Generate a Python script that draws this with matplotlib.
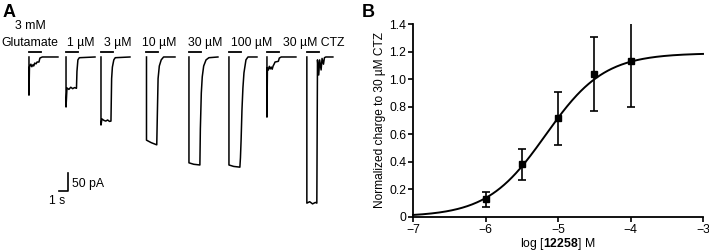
import numpy as np
import matplotlib
matplotlib.use("Agg")
import matplotlib.pyplot as plt

plt.rcParams["font.family"] = ["Liberation Sans", "DejaVu Sans"]
plt.rcParams["mathtext.fontset"] = "custom"
plt.rcParams["mathtext.rm"] = "Liberation Sans"
plt.rcParams["mathtext.bf"] = "Liberation Sans:bold"

#----------------------------- PANEL A : CURRENT TRACES (time s, current pA) -----------------------------#

trace_labels = ["Glutamate", "1 \u00b5M", "3 \u00b5M", "10 \u00b5M", "30 \u00b5M", "100 \u00b5M", "", "30 \u00b5M CTZ"]
top_label = "3 mM"

trace_t = [
    [0, 0, 0.05, 0.2, 0.3, 0.4, 0.5, 0.6, 0.75, 0.85, 1.05, 1.15, 1.4, 3.05],
    [0, 0, 0.1, 0.3, 0.5, 0.7, 0.9, 1.1, 1.15, 1.25, 1.4, 3.05],
    [0, 0, 0.1, 0.3, 0.5, 0.7, 0.9, 1.05, 1.12, 1.2, 1.35, 1.5, 3.05],
    [0, 0, 0.5, 1.08, 1.15, 1.22, 1.35, 1.55, 1.8, 3.0],
    [0, 0, 0.5, 1.15, 1.2, 1.3, 1.4, 1.55, 1.8, 2.1, 3.05],
    [0, 0, 0.5, 1.15, 1.21, 1.28, 1.37, 1.47, 1.58, 1.79, 2.0, 2.95],
    [0, 0, 0.05, 0.15, 0.25, 0.35, 0.45, 0.55, 0.65, 0.75, 0.85, 1.2, 1.3, 1.5, 3.05],
    [0, 0, 0.3, 0.6, 0.9, 1.05, 1.12, 1.25, 1.35, 1.5, 1.6, 1.75, 1.85, 2.0, 2.74],
]
trace_i = [
    [0, -106, -28, -20, -27, -22, -25, -17, -19, -14, -14, -3, 0, 0],
    [0, -139, -86, -90, -84, -88, -85, -87, -40, -8, -2, 0],
    [0, -189, -172, -176, -178, -175, -179, -178, -60, -28, -8, -2, 0],
    [0, -231, -238, -244, -150, -60, -25, -8, 0, 0],
    [0, -294, -298, -300, -200, -100, -55, -25, -8, -2, 0],
    [0, -300, -304, -306, -280, -230, -147, -86, -44, -8, 0, 0],
    [0, -167, -30, -36, -26, -33, -28, -34, -25, -20, -14, -12, -3, 0, 0],
    [0, -406, -402, -408, -404, -406, -8, -50, -8, -36, -4, -20, -2, 0, 0],
]
app_duration = 1.25  # s, agonist application bar
scale_t = 1.0        # s
scale_i = 50.0       # pA

# layout of panel A (s along x, pA along y)
trace_onset = [3.05, 6.95, 10.63, 15.42, 19.89, 24.1, 28.1, 32.3]
label_x = [3.15, 8.5, 12.4, 16.8, 21.6, 26.5, 0, 33.05]

fig = plt.figure(figsize=(7.09, 2.52), dpi=100)

axA = fig.add_axes([0, 0, 355 / 709, 1])
axA.set_xlim(0, 355 / 9.5)
axA.set_ylim(-541.7, 158.3)
axA.axis("off")

for k in range(len(trace_t)):
    t = np.array(trace_t[k]) + trace_onset[k]
    axA.plot(t, trace_i[k], color="black", lw=1.1)
    axA.plot([trace_onset[k], trace_onset[k] + app_duration], [14, 14], color="black", lw=1.3)
    if trace_labels[k]:
        axA.text(label_x[k], 39, trace_labels[k], ha="center", va="center", fontsize=8.8)
axA.text(label_x[0], 87, top_label, ha="center", va="center", fontsize=8.8)

# scale bar
sx, sy = 7.16, -372
axA.plot([sx - scale_t, sx, sx], [sy, sy, sy + scale_i], color="black", lw=1.2)
axA.text(sx + 0.4, sy + scale_i / 2 - 5, "50 pA", ha="left", va="center", fontsize=8.8)
axA.text(sx - 1.15, sy - 28, "1 s", ha="center", va="center", fontsize=8.8)

fig.text(0.004, 0.985, "A", fontsize=13, fontweight="bold", ha="left", va="top")

#----------------------------- PANEL B : CONCENTRATION-RESPONSE --------------------------------------------#

log_conc = [-6.0, -5.5, -5.0, -4.5, -4.0]
norm_charge = [0.13, 0.38, 0.72, 1.04, 1.13]
err_low = [0.06, 0.11, 0.20, 0.27, 0.33]
err_high = [0.05, 0.11, 0.19, 0.27, 0.31]

# Hill fit
fit_top = 1.19
fit_logec50 = -5.17
fit_hill = 1.074

xfit = np.linspace(-7, -3, 300)
yfit = fit_top / (1 + 10 ** ((fit_logec50 - xfit) * fit_hill))

axB = fig.add_axes([413 / 709, 1 - 216.7 / 252, 290 / 709, 192.4 / 252])
axB.plot(xfit, yfit, color="black", lw=1.4, clip_on=False)
axB.errorbar(log_conc, norm_charge, yerr=[err_low, err_high], fmt="s", color="black",
             ms=4.5, capsize=3, elinewidth=1.2, capthick=1.2)

axB.set_xlim(-7, -3)
axB.set_ylim(0, 1.4)
axB.set_xticks([-7, -6, -5, -4, -3])
axB.set_yticks([0, 0.2, 0.4, 0.6, 0.8, 1.0, 1.2, 1.4])
axB.set_yticklabels(["0", "0.2", "0.4", "0.6", "0.8", "1.0", "1.2", "1.4"])
axB.spines["top"].set_visible(False)
axB.spines["right"].set_visible(False)
for s in ["left", "bottom"]:
    axB.spines[s].set_linewidth(1.3)
axB.tick_params(direction="out", length=3.5, width=1.2, labelsize=8.8, pad=1.5)
axB.set_ylabel("Normalized charge to 30 \u00b5M CTZ", fontsize=8.6, labelpad=2)
axB.set_xlabel(r"log [$\mathbf{12258}$] M", fontsize=8.8, labelpad=0.5)

fig.text(362 / 709, 0.985, "B", fontsize=13, fontweight="bold", ha="left", va="top")

fig.savefig("out.png", dpi=100)
